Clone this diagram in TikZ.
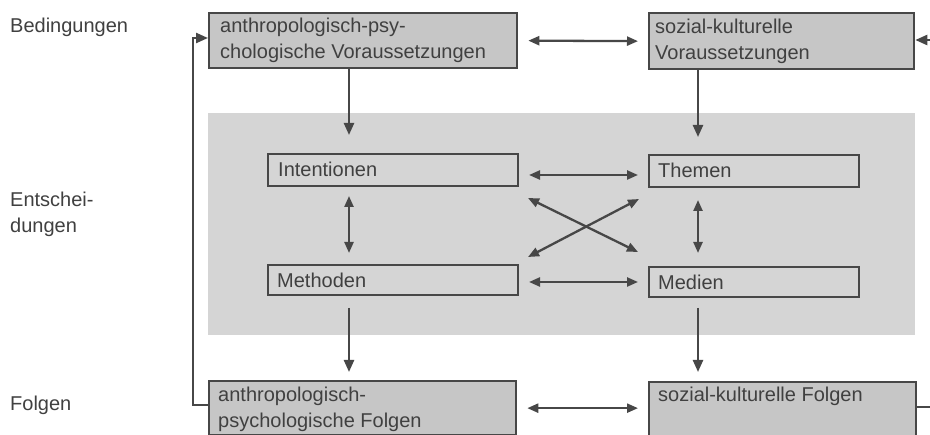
\documentclass[tikz,border=0pt]{standalone}
\usepackage{fontspec}
\setmainfont{Liberation Sans}
\usetikzlibrary{arrows.meta,calc}
\definecolor{ink}{HTML}{474747}
\definecolor{bandgray}{HTML}{D5D5D5}
\definecolor{boxgray}{HTML}{C6C6C6}
\definecolor{txtc}{HTML}{404040}
\begin{document}
\begin{tikzpicture}[x=1pt,y=-1pt,
  font=\fontsize{20}{25}\selectfont,
  box/.style={draw=ink, line width=2.3pt, fill=boxgray, inner sep=0pt, anchor=north west},
  ibox/.style={draw=ink, line width=2pt, fill=bandgray, inner sep=0pt, anchor=north west},
  txt/.style={anchor=base west, inner sep=0pt, text=txtc},
  conn/.style={draw=ink, line width=2.3pt},
  arr/.style={conn, -{Triangle[length=12pt,width=10pt]}},
  darr/.style={conn, {Triangle[length=11pt,width=9pt]}-{Triangle[length=11pt,width=9pt]}}]
\useasboundingbox (0,0) rectangle (930,435);
\fill[white] (0,0) rectangle (930,435);
\node[fill=bandgray, inner sep=0pt, anchor=north west, minimum width=707pt, minimum height=222pt] (band) at (208,113) {};

\node[box, minimum width=308pt, minimum height=55pt] (tl) at (208,12) {};
\node[box, minimum width=265pt, minimum height=56pt] (tr) at (648,12) {};
\node[ibox, minimum width=250pt, minimum height=32pt] (int) at (267,153) {};
\node[ibox, minimum width=210pt, minimum height=32pt] (them) at (648,154) {};
\node[ibox, minimum width=250pt, minimum height=30pt] (meth) at (267,264) {};
\node[ibox, minimum width=210pt, minimum height=30pt] (med) at (648,266) {};
\node[box, minimum width=307pt, minimum height=54pt] (bl) at (208,380) {};
\node[box, minimum width=267pt, minimum height=54pt] (br) at (648,381) {};

\node[txt] (tl1) at (220,33) {anthropologisch-psy-};
\node[txt] (tl2) at (220,59) {chologische Voraussetzungen};
\node[txt] (tr1) at (655,34) {sozial-kulturelle};
\node[txt] (tr2) at (655,60) {Voraussetzungen};
\node[txt] (intt) at (278,177) {Intentionen};
\node[txt] (themt) at (658,178) {Themen};
\node[txt] (metht) at (277,288) {Methoden};
\node[txt] (medt) at (658,290) {Medien};
\node[txt] (bl1) at (218,402) {anthropologisch-};
\node[txt] (bl2) at (218,428) {psychologische Folgen};
\node[txt] (brt) at (658,402) {sozial-kulturelle Folgen};
\node[txt] (lab1) at (10,33) {Bedingungen};
\node[txt] (lab2) at (10,207) {Entschei-};
\node[txt] (lab3) at (10,233) {dungen};
\node[txt] (lab4) at (10,411) {Folgen};

\coordinate (cl) at (349,0);
\coordinate (cr) at (698,0);
\draw[arr] (cl |- tl.south) -- ($(cl |- int.north)+(0,-18)$);
\draw[arr] (cr |- tr.south) -- ($(cr |- them.north)+(0,-17)$);
\draw[darr] ($(cl |- int.south)+(0,9)$) -- ($(cl |- meth.north)+(0,-11)$);
\draw[darr] ($(cr |- them.south)+(0,12)$) -- ($(cr |- med.north)+(0,-13)$);
\draw[arr] ($(cl |- meth.south)+(0,12)$) -- ($(cl |- bl.north)+(0,-8)$);
\draw[arr] ($(cr |- med.south)+(0,10)$) -- ($(cr |- br.north)+(0,-9)$);

\draw[darr] ($(tl.east)+(10,0)$) -- ($(tr.west)+(-10,0)$);
\draw[darr] ($(int.east)+(10,5)$) -- ($(them.west)+(-10,4)$);
\draw[darr] ($(meth.east)+(10,2)$) -- ($(med.west)+(-10,0)$);
\draw[darr] ($(bl.east)+(10,0)$) -- ($(bl.east -| br.west)+(-10,0)$);
\draw[darr] ($(int.south east)+(9,11)$) -- ($(med.north west)+(-10,-14)$);
\draw[darr] ($(meth.north east)+(9,-7)$) -- ($(them.south west)+(-9,11)$);

\coordinate (lb) at (193,405);
\coordinate (lt) at (193,38);
\draw[arr] (bl.west |- lb) -- (lb) -- (lt) -- (tl.west |- lt);
\coordinate (rt) at (930,40);
\coordinate (rb) at (930,407);
\draw[arr] (rt) -- (tr.east |- rt);
\draw[conn] (br.east |- rb) -- (rb);
\end{tikzpicture}
\end{document}
